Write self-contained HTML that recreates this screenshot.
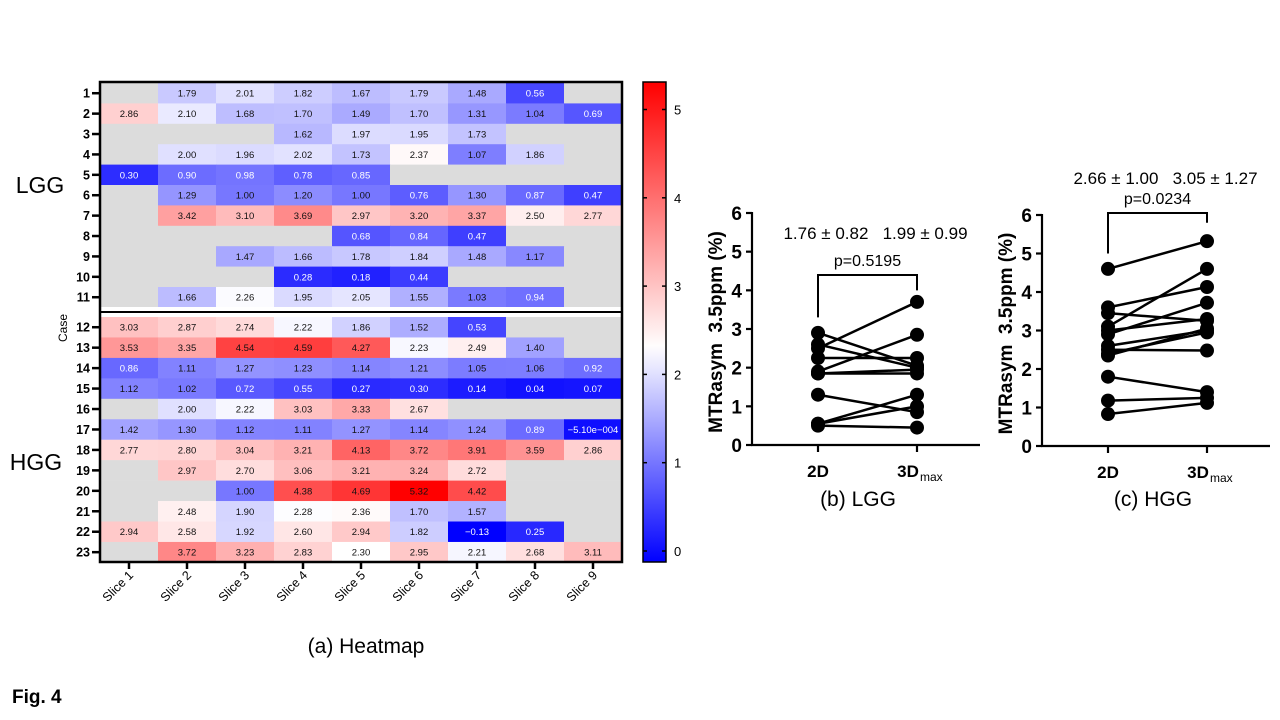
<!DOCTYPE html>
<html><head><meta charset="utf-8"><style>
body{margin:0;background:#fff;}
svg{display:block;font-family:"Liberation Sans",Arial,sans-serif;}
.pre{white-space:pre;}
</style></head><body>
<svg id="fig" width="1280" height="720" viewBox="0 0 1280 720" xmlns="http://www.w3.org/2000/svg">
<text x="12" y="703" font-size="19" font-weight="bold">Fig. 4</text>
<text x="366" y="653" font-size="21" text-anchor="middle">(a) Heatmap</text>
<text x="858" y="506" font-size="21" text-anchor="middle">(b) LGG</text>
<text x="1153" y="506" font-size="21" text-anchor="middle">(c) HGG</text>
<text x="40" y="193" font-size="23" text-anchor="middle">LGG</text>
<text x="36" y="470" font-size="23" text-anchor="middle">HGG</text>
<text transform="translate(67,328) rotate(-90)" font-size="12" text-anchor="middle">Case</text>
<g id="hm"></g>
<g id="cb"></g>
<g id="pb"></g>
<g id="pc"></g>
</svg>
<script>
const sliceLabels=["Slice 1","Slice 2","Slice 3","Slice 4","Slice 5","Slice 6","Slice 7","Slice 8","Slice 9"];
const caseLabels=["1","2","3","4","5","6","7","8","9","10","11","12","13","14","15","16","17","18","19","20","21","22","23"];
const heatValues=[
[null,1.79,2.01,1.82,1.67,1.79,1.48,0.56,null],
[2.86,2.10,1.68,1.70,1.49,1.70,1.31,1.04,0.69],
[null,null,null,1.62,1.97,1.95,1.73,null,null],
[null,2.00,1.96,2.02,1.73,2.37,1.07,1.86,null],
[0.30,0.90,0.98,0.78,0.85,null,null,null,null],
[null,1.29,1.00,1.20,1.00,0.76,1.30,0.87,0.47],
[null,3.42,3.10,3.69,2.97,3.20,3.37,2.50,2.77],
[null,null,null,null,0.68,0.84,0.47,null,null],
[null,null,1.47,1.66,1.78,1.84,1.48,1.17,null],
[null,null,null,0.28,0.18,0.44,null,null,null],
[null,1.66,2.26,1.95,2.05,1.55,1.03,0.94,null],
[3.03,2.87,2.74,2.22,1.86,1.52,0.53,null,null],
[3.53,3.35,4.54,4.59,4.27,2.23,2.49,1.40,null],
[0.86,1.11,1.27,1.23,1.14,1.21,1.05,1.06,0.92],
[1.12,1.02,0.72,0.55,0.27,0.30,0.14,0.04,0.07],
[null,2.00,2.22,3.03,3.33,2.67,null,null,null],
[1.42,1.30,1.12,1.11,1.27,1.14,1.24,0.89,-0.00051],
[2.77,2.80,3.04,3.21,4.13,3.72,3.91,3.59,2.86],
[null,2.97,2.70,3.06,3.21,3.24,2.72,null,null],
[null,null,1.00,4.38,4.69,5.32,4.42,null,null],
[null,2.48,1.90,2.28,2.36,1.70,1.57,null,null],
[2.94,2.58,1.92,2.60,2.94,1.82,-0.13,0.25,null],
[null,3.72,3.23,2.83,2.30,2.95,2.21,2.68,3.11]];
const colorTicks=[0,1,2,3,4,5];
const lgg2D=[2.9,2.6,2.5,2.25,1.9,1.85,1.85,1.3,0.55,0.55,0.5];
const lgg3D=[2.05,2.0,3.7,2.25,2.85,1.85,1.95,0.85,1.3,1.0,0.45];
const hgg2D=[4.6,3.6,3.45,3.1,3.0,2.9,2.6,2.5,2.4,2.35,1.8,1.18,0.83];
const hgg3D=[5.32,4.13,3.25,4.6,3.3,3.72,3.0,2.48,2.95,3.05,1.4,1.25,1.12];
const yTicks=[0,1,2,3,4,5,6];

const NS="http://www.w3.org/2000/svg";
function mk(parent,tag,attrs,text){const e=document.createElementNS(NS,tag);for(const k in attrs)e.setAttribute(k,attrs[k]);if(text!==undefined)e.textContent=text;parent.appendChild(e);return e;}
const vmin=-0.13,vmid=2.3,vmax=5.32;
function color(v){let r,g,b;if(v<vmid){const t=Math.max(0,(v-vmin)/(vmid-vmin));r=Math.round(255*t);g=r;b=255;}else{const t=Math.min(1,(v-vmid)/(vmax-vmid));r=255;g=Math.round(255*(1-t));b=g;}return `rgb(${r},${g},${b})`;}
const X0=100,CW=58;
function colX(c){return X0+c*CW;}
function rowY(r){return r<11?83+r*20.4:317+(r-11)*20.45;}
const RH=20.45;
const hm=document.getElementById('hm');
heatValues.forEach((row,r)=>{row.forEach((v,c)=>{
 const rc=mk(hm,'rect',{x:colX(c),y:rowY(r),width:CW+0.5,height:RH+0.3,fill:v===null?'#dcdcdc':color(v)});
 
 
 if(v!==null){const s=Math.abs(v)<0.001?'\u22125.10e\u2212004':(v<0?'\u2212'+(-v).toFixed(2):v.toFixed(2));
  const t=mk(hm,'text',{x:colX(c)+CW/2,y:rowY(r)+RH/2+3.5,'font-size':9.5,'text-anchor':'middle',fill:v<1.0?'#fff':'#111'},s);
  
  }
});
 const yc=rowY(r)+RH/2;
 mk(hm,'line',{x1:92,x2:100,y1:yc,y2:yc,stroke:'#000','stroke-width':2.5});
 const lt=mk(hm,'text',{x:90,y:yc+4.5,'font-size':12.5,'font-weight':'bold','text-anchor':'end'},caseLabels[r]);
 
 
});
mk(hm,'rect',{x:X0,y:rowY(11)-10,width:CW*9,height:10,fill:'#fff'});
mk(hm,'line',{x1:X0,x2:X0+CW*9,y1:312,y2:312,stroke:'#000','stroke-width':2});
mk(hm,'rect',{x:X0,y:82,width:CW*9,height:480,fill:'none',stroke:'#000','stroke-width':2.5});
sliceLabels.forEach((s,c)=>{const cx=colX(c)+CW/2;
 mk(hm,'line',{x1:cx,x2:cx,y1:562,y2:569,stroke:'#000','stroke-width':2.5});
 const t=mk(hm,'text',{transform:`translate(${cx+5},${576}) rotate(-45)`,'font-size':12.5,'text-anchor':'end'},s);
 
 });
// colorbar
const cb=document.getElementById('cb');
const defs=mk(cb,'defs',{});const lg=mk(defs,'linearGradient',{id:'g',x1:0,y1:1,x2:0,y2:0});
const cbTop=82,cbBot=562;function cbY(v){return 551-v*88.3;}
for(let i=0;i<=20;i++){const v=vmin+(vmax-vmin)*i/20;mk(lg,'stop',{offset:((cbY(vmin)-cbY(v))/(cbY(vmin)-cbY(vmax))).toFixed(3),'stop-color':color(v)});}
mk(cb,'rect',{x:643,y:cbTop,width:23,height:cbBot-cbTop,fill:'url(#g)',stroke:'#000','stroke-width':1.5});
colorTicks.forEach(v=>{const y=cbY(v);mk(cb,'line',{x1:643,x2:647,y1:y,y2:y,stroke:'#000','stroke-width':1.5});mk(cb,'line',{x1:662,x2:666,y1:y,y2:y,stroke:'#000','stroke-width':1.5});
 const t=mk(cb,'text',{x:674,y:y+5,'font-size':13},String(v));
 
 });
// paired plots
function paired(g,ax,y0,y6,xa,xb,d2,d3,stats,sy,ptxt,py,bl,br){
 const Y=v=>y0-(y0-y6)*v/6;
 mk(g,'line',{x1:ax,x2:ax,y1:y6-1,y2:y0,stroke:'#000','stroke-width':2.2});
 mk(g,'line',{x1:ax-1,x2:ax+228,y1:y0,y2:y0,stroke:'#000','stroke-width':2.2});
 yTicks.forEach(v=>{mk(g,'line',{x1:ax-6,x2:ax,y1:Y(v),y2:Y(v),stroke:'#000','stroke-width':2.2});
  const t=mk(g,'text',{x:ax-10,y:Y(v)+7,'font-size':19,'font-weight':'bold','text-anchor':'end'},String(v));
  
  });
 [xa,xb].forEach(x=>mk(g,'line',{x1:x,x2:x,y1:y0,y2:y0+7,stroke:'#000','stroke-width':2.2}));
 const t1=mk(g,'text',{x:xa,y:y0+32,'font-size':17,'font-weight':'bold','text-anchor':'middle'},'2D');
 
 const t2=mk(g,'text',{x:xb-9,y:y0+32,'font-size':17,'font-weight':'bold','text-anchor':'middle'},'3D');
 
 mk(g,'text',{x:xb+3,y:y0+36,'font-size':12},'max');
 const yt=mk(g,'text',{transform:`translate(${ax-30},${(y0+y6)/2+3}) rotate(-90)`,'font-size':19,'font-weight':'bold','text-anchor':'middle','class':'pre'},'MTRasym  3.5ppm (%)');
 
 d2.forEach((v,i)=>{const l=mk(g,'line',{x1:xa,y1:Y(v),x2:xb,y2:Y(d3[i]),stroke:'#000','stroke-width':2.5});
  });
 d2.forEach((v,i)=>{const a=mk(g,'circle',{cx:xa,cy:Y(v),r:7,fill:'#000'});
  const b=mk(g,'circle',{cx:xb,cy:Y(d3[i]),r:7,fill:'#000'});});
 const s=mk(g,'text',{x:(xa+xb)/2+8,y:sy,'font-size':17,'text-anchor':'middle','class':'pre'},stats);
 
 const p=mk(g,'text',{x:(xa+xb)/2,y:py,'font-size':16,'text-anchor':'middle'},ptxt);
 
 const bt=py+9;
 const br_=mk(g,'polyline',{points:`${xa},${Y(bl)} ${xa},${bt} ${xb},${bt} ${xb},${Y(br)}`,fill:'none',stroke:'#000','stroke-width':2});
 
}
paired(document.getElementById('pb'),752,445,213,818,917,lgg2D,lgg3D,'1.76 \u00b1 0.82   1.99 \u00b1 0.99',239,'p=0.5195',266,3.3,4.0);
paired(document.getElementById('pc'),1042,446,215,1108,1207,hgg2D,hgg3D,'2.66 \u00b1 1.00   3.05 \u00b1 1.27',184,'p=0.0234',204,5.0,5.8);
</script>
</body></html>
